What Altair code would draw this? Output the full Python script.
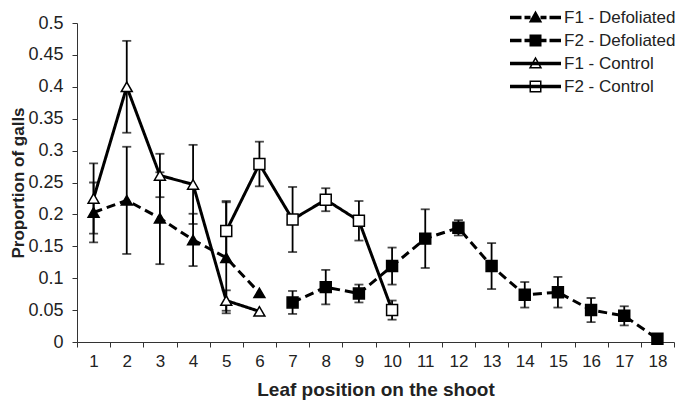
import altair as alt
import pandas as pd

# ---- data ----
positions = list(range(1, 19))

f1_def_x = [1, 2, 3, 4, 5, 6]
f1_def_y = [0.203, 0.222, 0.194, 0.160, 0.132, 0.077]
f1_def_e = [0.047, 0.084, 0.072, 0.041, 0.087, 0.0]

f2_def_x = [7, 8, 9, 10, 11, 12, 13, 14, 15, 16, 17, 18]
f2_def_y = [0.062, 0.086, 0.076, 0.119, 0.162, 0.179, 0.119, 0.074, 0.078, 0.050, 0.041, 0.005]
f2_def_e = [0.018, 0.027, 0.014, 0.029, 0.046, 0.012, 0.036, 0.020, 0.024, 0.019, 0.015, 0.0]

f1_ctl_x = [1, 2, 3, 4, 5, 6]
f1_ctl_y = [0.225, 0.400, 0.261, 0.247, 0.065, 0.048]
f1_ctl_e = [0.055, 0.072, 0.034, 0.062, 0.016, 0.0]

f2_ctl_x = [5, 6, 7, 8, 9, 10]
f2_ctl_y = [0.174, 0.279, 0.192, 0.223, 0.190, 0.050]
f2_ctl_e = [0.047, 0.035, 0.051, 0.018, 0.031, 0.015]

series_names = ["F1 - Defoliated", "F2 - Defoliated", "F1 - Control", "F2 - Control"]
y_ticks = [0, 0.05, 0.1, 0.15, 0.2, 0.25, 0.3, 0.35, 0.4, 0.45, 0.5]

rows = []
for name, xs, ys, es in [
    (series_names[0], f1_def_x, f1_def_y, f1_def_e),
    (series_names[1], f2_def_x, f2_def_y, f2_def_e),
    (series_names[2], f1_ctl_x, f1_ctl_y, f1_ctl_e),
    (series_names[3], f2_ctl_x, f2_ctl_y, f2_ctl_e),
]:
    for x, y, e in zip(xs, ys, es):
        rows.append({"series": name, "legend": name, "pos": x, "value": y,
                     "lo": y - e, "hi": y + e, "err": e})
df = pd.DataFrame(rows)

FONT = "Liberation Sans"
TXT = "#222222"

x_axis = alt.Axis(title="Leaf position on the shoot", labelAngle=0, tickBand="extent",
                  tickSize=5, labelPadding=6, titlePadding=11, labelFontSize=17,
                  titleFontSize=19)
x_scale = alt.Scale(type="band", domain=positions, paddingInner=0, paddingOuter=0)
y_scale = alt.Scale(domain=[0, 0.5], nice=False, zero=True)
y_axis = alt.Axis(title="Proportion of galls", values=y_ticks, format=".2~f",
                  tickSize=5, labelPadding=9, labelFontSize=18,
                  titleFontSize=17, labelOverlap=False,
                  titleX=-50, titleY=159.5, titleAngle=270, titleBaseline="bottom",
                  titleAlign="center")


def X():
    return alt.X("pos:O", scale=x_scale, axis=x_axis)


def Y(field):
    return alt.Y(field, scale=y_scale, axis=y_axis)


base = alt.Chart(df)

lines = base.mark_line(color="black", strokeWidth=3).encode(
    x=X(),
    y=Y("value:Q"),
    strokeDash=alt.StrokeDash("series:N", legend=None,
                              scale=alt.Scale(domain=series_names,
                                              range=[[9, 5], [9, 5], [1, 0], [1, 0]])),
    detail="series:N",
)

err_base = base.transform_filter("datum.err > 0")
ebars = err_base.mark_rule(color="black", strokeWidth=1.8).encode(
    x=X(), y=Y("lo:Q"), y2="hi:Q")
cap_lo = err_base.mark_tick(color="black", thickness=1.8, size=9, orient="horizontal").encode(
    x=X(), y=Y("lo:Q"))
cap_hi = err_base.mark_tick(color="black", thickness=1.8, size=9, orient="horizontal").encode(
    x=X(), y=Y("hi:Q"))

points = base.mark_point(filled=True, stroke="black", strokeWidth=1.5, size=120, opacity=1).encode(
    x=X(), y=Y("value:Q"),
    shape=alt.Shape("series:N", legend=None,
                    scale=alt.Scale(domain=series_names,
                                    range=["triangle-up", "square", "triangle-up", "square"])),
    fill=alt.Fill("series:N", legend=None,
                  scale=alt.Scale(domain=series_names,
                                  range=["black", "black", "white", "white"])),
)


# legend glyphs: line + marker (custom symbol paths)
def rect(x1, x2, h=0.35):
    return f"M{x1},{-h}H{x2}V{h}H{x1}Z"


dashed = rect(-5.1, -2.8) + rect(-2.2, -1.0) + rect(1.0, 2.2) + rect(2.8, 5.1)
solid = rect(-5.1, 5.1)
tri_f = "M0,-1.4L1.35,1.0L-1.35,1.0Z"
sq_f = "M-1.2,-1.2H1.2V1.2H-1.2Z"
tri_o = "M0,-1.4L1.35,1.0L-1.35,1.0ZM0,-0.8L-0.82,0.7L0.82,0.7Z"
sq_o = "M-1.2,-1.2H1.2V1.2H-1.2ZM-0.9,-0.9V0.9H0.9V-0.9Z"
legend_paths = [dashed + tri_f, dashed + sq_f, solid + tri_o, solid + sq_o]

legend_layer = base.transform_filter("false").mark_point(
    filled=True, color="black", size=100, strokeWidth=0).encode(
    x=X(), y=Y("value:Q"),
    shape=alt.Shape("legend:N", title=None,
                    scale=alt.Scale(domain=series_names, range=legend_paths),
                    legend=alt.Legend(orient="none", legendX=450, legendY=-14,
                                      symbolSize=100, symbolFillColor="black",
                                      symbolStrokeWidth=0, symbolOpacity=1,
                                      labelOffset=20, rowPadding=5, padding=0,
                                      labelFontSize=17, labelFont=FONT, labelColor=TXT,
                                      labelLimit=300)),
)

chart = alt.layer(lines, ebars, cap_lo, cap_hi, points, legend_layer).resolve_scale(
    shape="independent"
).properties(
    width=597, height=319,
    autosize=alt.AutoSizeParams(type="none"),
    padding={"left": 69, "top": 15, "right": 3, "bottom": 59},
).configure_view(stroke=None).configure_axis(
    labelFont=FONT, titleFont=FONT,
    labelColor=TXT, titleColor=TXT, titleFontWeight="bold",
    domainColor="#333333", tickColor="#333333", grid=False,
)

chart.save("out.html", embed_options={"renderer": "svg", "actions": False})
